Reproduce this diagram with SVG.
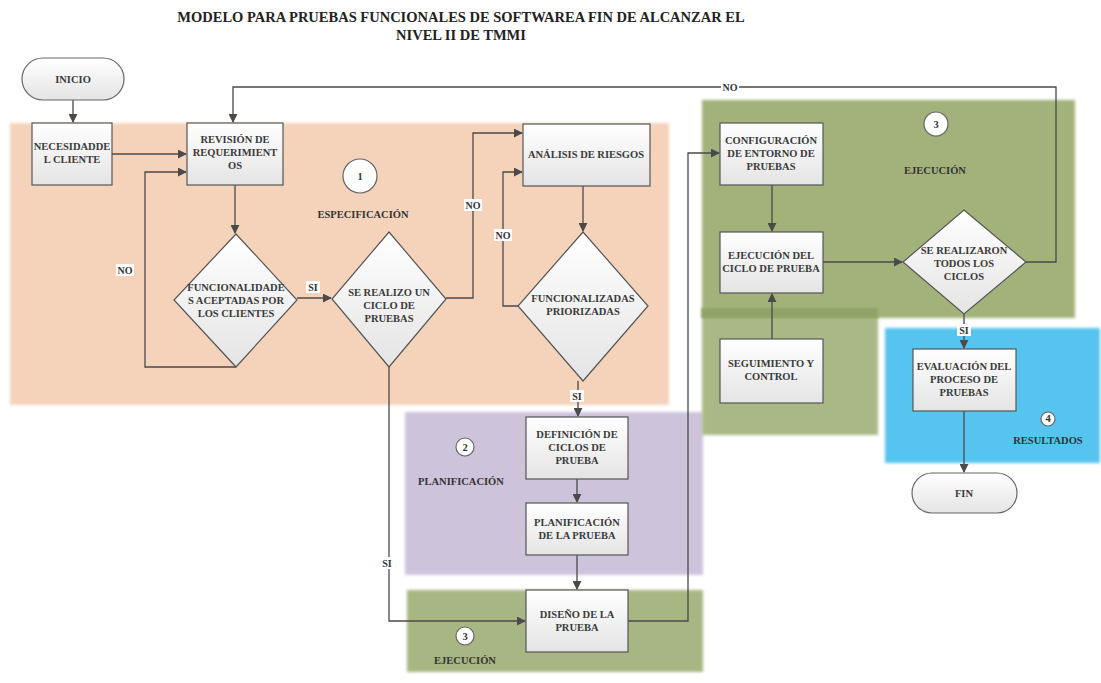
<svg xmlns="http://www.w3.org/2000/svg" width="1101" height="683" viewBox="0 0 1101 683">
  <defs>
    <linearGradient id="boxFill" x1="0" y1="0" x2="0" y2="1">
      <stop offset="0" stop-color="#ffffff"/>
      <stop offset="1" stop-color="#e4e4e4"/>
    </linearGradient>
    <marker id="arrow" viewBox="0 0 10 10" refX="9" refY="5" markerWidth="9" markerHeight="9" markerUnits="userSpaceOnUse" orient="auto">
      <path d="M0,0 L10,5 L0,10 z" fill="#4a4a4a"/>
    </marker>
    <filter id="soft" x="-5%" y="-5%" width="110%" height="110%">
      <feGaussianBlur stdDeviation="1.5"/>
    </filter>
  </defs>
  <style>
    .box { fill: url(#boxFill); stroke: #555; stroke-width: 1.2; }
    .term { fill: url(#boxFill); stroke: #666; stroke-width: 1.2; }
    .lbl { font-family: "Liberation Serif", "DejaVu Serif", serif; font-weight: bold; font-size: 10.5px; fill: #3a3a3a; text-anchor: middle; }
    .zone { font-family: "Liberation Serif", "DejaVu Serif", serif; font-weight: bold; font-size: 10.5px; fill: #333; text-anchor: middle; }
    .title { font-family: "Liberation Serif", "DejaVu Serif", serif; font-weight: bold; font-size: 14.5px; fill: #222; text-anchor: middle; }
    .edge { fill: none; stroke: #4a4a4a; stroke-width: 1.3; }
    .tag { font-family: "Liberation Serif", "DejaVu Serif", serif; font-weight: bold; font-size: 10px; fill: #333; text-anchor: middle; }
    .tagbg { fill: #ffffff; }
    .num { fill: #ffffff; stroke: #666; stroke-width: 1.2; }
  </style>

  <rect width="1101" height="683" fill="#ffffff"/>

  <!-- title -->
  <text class="title" x="461" y="22">MODELO PARA PRUEBAS FUNCIONALES DE SOFTWAREA FIN DE ALCANZAR EL</text>
  <text class="title" x="461" y="40">NIVEL II DE TMMI</text>

  <!-- phase backgrounds -->
  <g id="phases">
    <rect x="10" y="123" width="659" height="282" fill="#f5d3bb" filter="url(#soft)"/>
    <rect x="405" y="412" width="298" height="163" fill="#cdc3db" filter="url(#soft)"/>
    <rect x="407" y="590" width="296" height="82" fill="#a8b683" filter="url(#soft)"/>
    <rect x="702" y="308" width="176" height="127" fill="#a9b885" filter="url(#soft)"/>
    <rect x="702" y="100" width="373" height="218" fill="#a3b27a" filter="url(#soft)"/>
    <rect x="702" y="308" width="176" height="10" fill="#91a267" filter="url(#soft)"/>
    <rect x="885" y="328" width="215" height="135" fill="#55c4ee" filter="url(#soft)"/>
  </g>

  <!-- phase markers -->
  <g id="phase-labels">
    <circle class="num" cx="360" cy="176" r="17"/>
    <text class="zone" x="360" y="180">1</text>
    <text class="zone" x="363" y="218">ESPECIFICACIÓN</text>

    <circle class="num" cx="465" cy="447" r="9"/>
    <text class="zone" x="465" y="451" font-size="9px">2</text>
    <text class="zone" x="461" y="485">PLANIFICACIÓN</text>

    <circle class="num" cx="465" cy="636" r="9"/>
    <text class="zone" x="465" y="640" font-size="9px">3</text>
    <text class="zone" x="465" y="664">EJECUCIÓN</text>

    <circle class="num" cx="936" cy="124" r="12"/>
    <text class="zone" x="936" y="128">3</text>
    <text class="zone" x="935" y="174">EJECUCIÓN</text>

    <circle class="num" cx="1048" cy="419" r="7"/>
    <text class="zone" x="1048" y="422" font-size="8px">4</text>
    <text class="zone" x="1048" y="444">RESULTADOS</text>
  </g>

  <!-- connectors -->
  <g id="connectors">
    <path class="edge" d="M73,100 V122" marker-end="url(#arrow)"/>
    <path class="edge" d="M112,154 H186" marker-end="url(#arrow)"/>
    <path class="edge" d="M235,185 V233" marker-end="url(#arrow)"/>
    <path class="edge" d="M236,367 H145 V172 H186" marker-end="url(#arrow)"/>
    <path class="edge" d="M297,298 H331" marker-end="url(#arrow)"/>
    <path class="edge" d="M446,298 H473 V133 H522" marker-end="url(#arrow)"/>
    <path class="edge" d="M583,186 V231" marker-end="url(#arrow)"/>
    <path class="edge" d="M518,306 H503 V172 H522" marker-end="url(#arrow)"/>
    <path class="edge" d="M578,381 V416" marker-end="url(#arrow)"/>
    <path class="edge" d="M577,479 V502" marker-end="url(#arrow)"/>
    <path class="edge" d="M577,555 V589" marker-end="url(#arrow)"/>
    <path class="edge" d="M389,367 V621 H525" marker-end="url(#arrow)"/>
    <path class="edge" d="M628,621 H688 V153 H719" marker-end="url(#arrow)"/>
    <path class="edge" d="M772,185 V231" marker-end="url(#arrow)"/>
    <path class="edge" d="M772,339 V294" marker-end="url(#arrow)"/>
    <path class="edge" d="M823,262 H902" marker-end="url(#arrow)"/>
    <path class="edge" d="M1026,262 H1056 V87 H233 V122" marker-end="url(#arrow)"/>
    <path class="edge" d="M964,314 V348" marker-end="url(#arrow)"/>
    <path class="edge" d="M964,411 V472" marker-end="url(#arrow)"/>

    <!-- branch labels -->
    <rect class="tagbg" x="116" y="264" width="18" height="12"/>
    <text class="tag" x="125" y="274">NO</text>
    <rect class="tagbg" x="306" y="281" width="14" height="12"/>
    <text class="tag" x="313" y="291">SI</text>
    <rect class="tagbg" x="464" y="199" width="18" height="12"/>
    <text class="tag" x="473" y="209">NO</text>
    <rect class="tagbg" x="494" y="229" width="18" height="12"/>
    <text class="tag" x="503" y="239">NO</text>
    <rect class="tagbg" x="570" y="390" width="14" height="12"/>
    <text class="tag" x="577" y="400">SI</text>
    <rect class="tagbg" x="380" y="557" width="14" height="12"/>
    <text class="tag" x="387" y="567">SI</text>
    <rect class="tagbg" x="721" y="81" width="18" height="12"/>
    <text class="tag" x="730" y="91">NO</text>
    <rect class="tagbg" x="957" y="324" width="14" height="12"/>
    <text class="tag" x="964" y="334">SI</text>
  </g>

  <!-- nodes -->
  <g id="inicio">
    <rect class="term" x="22" y="58" width="102" height="42" rx="21"/>
    <text class="lbl" x="73" y="83">INICIO</text>
  </g>
  <g id="necesidad">
    <rect class="box" x="32" y="123" width="80" height="62"/>
    <text class="lbl" x="72" y="150">NECESIDADDE</text>
    <text class="lbl" x="72" y="163">L CLIENTE</text>
  </g>
  <g id="revision">
    <rect class="box" x="187" y="123" width="96" height="62"/>
    <text class="lbl" x="235" y="143">REVISIÓN DE</text>
    <text class="lbl" x="235" y="156">REQUERIMIENT</text>
    <text class="lbl" x="235" y="169">OS</text>
  </g>
  <g id="funcionalidades">
    <polygon class="box" points="236,234 297,300 236,367 174,300"/>
    <text class="lbl" x="236" y="291">FUNCIONALIDADE</text>
    <text class="lbl" x="236" y="304">S ACEPTADAS POR</text>
    <text class="lbl" x="236" y="317">LOS CLIENTES</text>
  </g>
  <g id="ciclo">
    <polygon class="box" points="389,232 446,299 389,367 332,299"/>
    <text class="lbl" x="389" y="296">SE REALIZO UN</text>
    <text class="lbl" x="389" y="309">CICLO DE</text>
    <text class="lbl" x="389" y="322">PRUEBAS</text>
  </g>
  <g id="analisis">
    <rect class="box" x="523" y="124" width="127" height="62"/>
    <text class="lbl" x="586" y="158">ANÁLISIS DE RIESGOS</text>
  </g>
  <g id="priorizadas">
    <polygon class="box" points="583,232 648,306 583,381 518,306"/>
    <text class="lbl" x="583" y="302">FUNCIONALIZADAS</text>
    <text class="lbl" x="583" y="315">PRIORIZADAS</text>
  </g>
  <g id="definicion">
    <rect class="box" x="526" y="417" width="102" height="62"/>
    <text class="lbl" x="577" y="438">DEFINICIÓN DE</text>
    <text class="lbl" x="577" y="451">CICLOS DE</text>
    <text class="lbl" x="577" y="464">PRUEBA</text>
  </g>
  <g id="planificacion">
    <rect class="box" x="526" y="503" width="102" height="52"/>
    <text class="lbl" x="577" y="526">PLANIFICACIÓN</text>
    <text class="lbl" x="577" y="539">DE LA PRUEBA</text>
  </g>
  <g id="diseno">
    <rect class="box" x="526" y="590" width="102" height="62"/>
    <text class="lbl" x="577" y="618">DISEÑO DE LA</text>
    <text class="lbl" x="577" y="631">PRUEBA</text>
  </g>
  <g id="configuracion">
    <rect class="box" x="720" y="123" width="103" height="62"/>
    <text class="lbl" x="771" y="144">CONFIGURACIÓN</text>
    <text class="lbl" x="771" y="157">DE ENTORNO DE</text>
    <text class="lbl" x="771" y="170">PRUEBAS</text>
  </g>
  <g id="ejecucion">
    <rect class="box" x="720" y="232" width="103" height="61"/>
    <text class="lbl" x="771" y="259">EJECUCIÓN DEL</text>
    <text class="lbl" x="771" y="272">CICLO DE PRUEBA</text>
  </g>
  <g id="seguimiento">
    <rect class="box" x="720" y="339" width="103" height="64"/>
    <text class="lbl" x="771" y="367">SEGUIMIENTO Y</text>
    <text class="lbl" x="771" y="380">CONTROL</text>
  </g>
  <g id="todos">
    <polygon class="box" points="964,210 1026,262 964,314 903,262"/>
    <text class="lbl" x="964" y="254">SE REALIZARON</text>
    <text class="lbl" x="964" y="267">TODOS LOS</text>
    <text class="lbl" x="964" y="280">CICLOS</text>
  </g>
  <g id="evaluacion">
    <rect class="box" x="913" y="349" width="103" height="62"/>
    <text class="lbl" x="964" y="370">EVALUACIÓN DEL</text>
    <text class="lbl" x="964" y="383">PROCESO DE</text>
    <text class="lbl" x="964" y="396">PRUEBAS</text>
  </g>
  <g id="fin">
    <rect class="term" x="912" y="473" width="105" height="40" rx="20"/>
    <text class="lbl" x="964" y="497">FIN</text>
  </g>
</svg>
